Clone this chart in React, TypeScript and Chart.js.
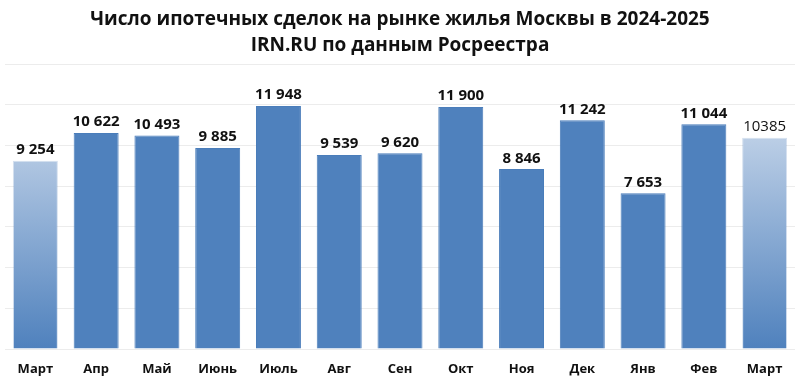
import React, { useEffect, useRef } from "react";
import { Chart, registerables } from "chart.js";

Chart.register(...registerables);

const titleLines = [
  "Число ипотечных сделок на рынке жилья Москвы в 2024-2025",
  "IRN.RU по данным Росреестра",
];
const months = ["Март", "Апр", "Май", "Июнь", "Июль", "Авг", "Сен", "Окт", "Ноя", "Дек", "Янв", "Фев", "Март"];
const deals = [9254, 10622, 10493, 9885, 11948, 9539, 9620, 11900, 8846, 11242, 7653, 11044, 10385];
const valueLabels = ["9 254", "10 622", "10 493", "9 885", "11 948", "9 539", "9 620", "11 900", "8 846", "11 242", "7 653", "11 044", "10385"];
const boldLabel = [true, true, true, true, true, true, true, true, true, true, true, true, false];
const gradientBars = [true, false, false, false, false, false, false, false, false, false, false, false, true];

const FONT = "'Open Sans', 'Noto Sans', sans-serif";
const BLUE = "#4f81bd";

const valueLabelPlugin = {
  id: "valueLabels",
  afterDatasetsDraw(chart: any) {
    const ctx = chart.ctx;
    const meta = chart.getDatasetMeta(0);
    ctx.save();
    ctx.fillStyle = "#111111";
    ctx.textAlign = "center";
    ctx.textBaseline = "alphabetic";
    meta.data.forEach((bar: any, i: number) => {
      ctx.font = `${boldLabel[i] ? "bold " : ""}15px ${FONT}`;
      ctx.fillText(valueLabels[i], bar.x, bar.y - 6.5);
    });
    ctx.restore();
  },
};

export default function App() {
  const ref = useRef<HTMLCanvasElement | null>(null);
  useEffect(() => {
    document.body.style.margin = "0";
    const canvas = ref.current!;
    const chart = new Chart(canvas, {
      type: "bar",
      data: {
        labels: months,
        datasets: [
          {
            data: deals,
            backgroundColor: (c: any) => {
              const i = c.dataIndex;
              if (!gradientBars[i]) return BLUE;
              const area = c.chart.chartArea;
              if (!area) return BLUE;
              const el = c.chart.getDatasetMeta(0).data[i];
              const top = el && isFinite(el.y) ? el.y : area.top;
              const g = c.chart.ctx.createLinearGradient(0, top, 0, area.bottom);
              g.addColorStop(0, "#e1e9f4");
              g.addColorStop(1, BLUE);
              return g;
            },
            borderColor: (c: any) => (gradientBars[c.dataIndex] ? "rgba(79,129,189,0.25)" : "#4a7dba"),
            borderWidth: 1,
            barPercentage: 0.74,
            categoryPercentage: 1,
          },
        ],
      },
      options: {
        responsive: false,
        animation: false,
        layout: { padding: { left: 5, right: 5, bottom: 0, top: 0 } },
        plugins: {
          legend: { display: false },
          tooltip: { enabled: false },
          title: {
            display: true,
            text: titleLines,
            color: "#111111",
            font: { family: FONT, size: 19, weight: "bold", lineHeight: 1.4 },
            padding: { top: 6, bottom: 5 },
          },
        },
        scales: {
          x: {
            grid: { display: false, drawTicks: false },
            border: { display: false },
            ticks: {
              color: "#111111",
              font: { family: FONT, size: 13, weight: "bold" },
              padding: 12,
              maxRotation: 0,
            },
            afterFit: (scale: any) => {
              scale.height = 32;
            },
          },
          y: {
            min: 0,
            max: 14000,
            ticks: { display: false, stepSize: 2000 },
            grid: { color: "#ececec", lineWidth: 1, drawTicks: false },
            border: { display: false },
          },
        },
      },
      plugins: [valueLabelPlugin],
    });
    return () => chart.destroy();
  }, []);
  return <canvas ref={ref} width={800} height={381} style={{ display: "block" }} />;
}
